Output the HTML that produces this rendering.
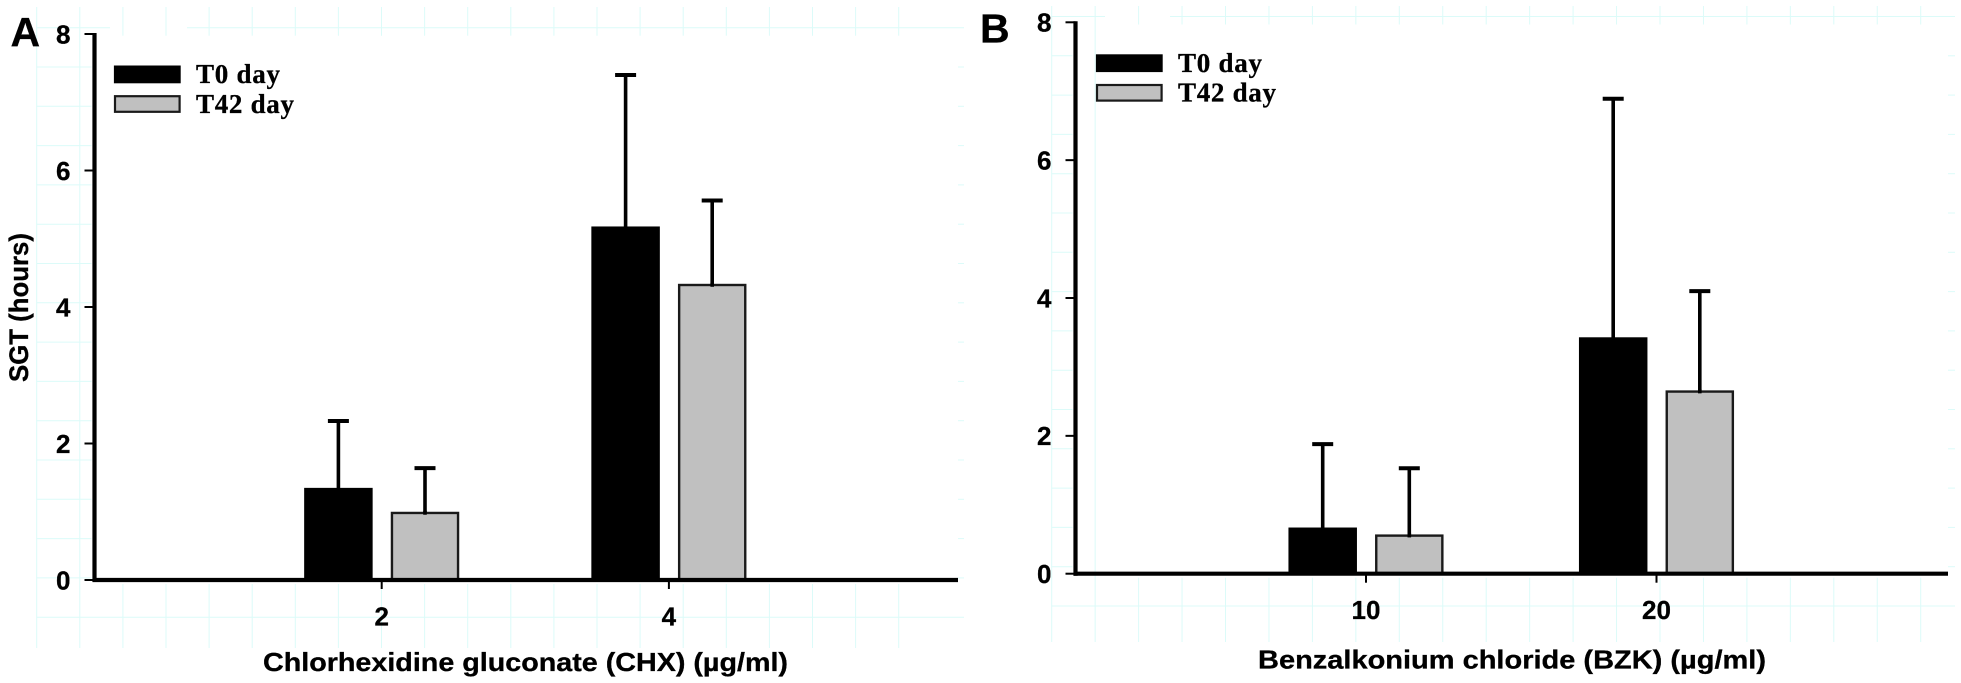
<!DOCTYPE html>
<html>
<head>
<meta charset="utf-8">
<title>SGT bar charts</title>
<style>
html,body{margin:0;padding:0;background:#fff;}
svg{display:block;}
text{font-family:"Liberation Sans",sans-serif;font-weight:bold;fill:#000;stroke:#000;stroke-width:0.3px;}
.serif{font-family:"Liberation Serif",serif;}
</style>
</head>
<body>
<svg id="fig" xmlns="http://www.w3.org/2000/svg" width="1961" height="683" viewBox="0 0 1961 683"></svg>
<script>
const yTicks = [0, 2, 4, 6, 8];
const seriesNames = ['T0 day', 'T42 day'];

const chxCategories = ['2', '4'];
const chxT0 = [1.35, 5.18];
const chxT42 = [1.0, 4.34];
const chxT0Err = [2.33, 7.4];
const chxT42Err = [1.64, 5.56];

const bzkCategories = ['10', '20'];
const bzkT0 = [0.67, 3.43];
const bzkT42 = [0.57, 2.66];
const bzkT0Err = [1.88, 6.89];
const bzkT42Err = [1.53, 4.1];

const svg = document.getElementById('fig');
const NS = 'http://www.w3.org/2000/svg';

function mk(tag, attrs, parent, txt) {
  const el = document.createElementNS(NS, tag);
  for (const k in attrs) el.setAttribute(k, attrs[k]);
  if (txt !== undefined) el.textContent = txt;
  (parent || svg).appendChild(el);
  return el;
}

function drawGrid(p) {
  const g = mk('g', {stroke: '#dcfbf9', 'stroke-width': 1, fill: 'none'});
  
  
  for (let n = 0; n < 21; n++) {
    const x = p.gridX0 + n * p.gridDX;
    if (x > p.gridXEnd) break;
    if (n < 2) {
      mk('line', {x1: x, x2: x, y1: p.gridTop, y2: p.gridBottom}, g);
    } else {
      mk('line', {x1: x, x2: x, y1: p.gridTop, y2: p.gridHTop + 8}, g);
      mk('line', {x1: x, x2: x, y1: p.y0 + 4, y2: p.gridBottom}, g);
    }
  }
  for (let n = 0; n < 16; n++) {
    const y = p.gridHTop + n * 39.3;
    if (n === 0) {
      mk('line', {x1: p.gridX0, x2: p.topGapStart, y1: y, y2: y}, g);
      mk('line', {x1: p.topGapEnd, x2: p.gridRight, y1: y, y2: y}, g);
    } else if (n === 15) {
      mk('line', {x1: p.gridX0, x2: p.gridRight, y1: y, y2: y}, g);
    } else {
      mk('line', {x1: p.gridX0, x2: p.axisX - 3, y1: y, y2: y}, g);
      mk('line', {x1: p.axisRight, x2: p.gridRight, y1: y, y2: y}, g);
    }
  }
}

function drawPanel(p) {
  const yScale = v => p.y0 - v * (p.y0 - p.y8) / 8;
  const xScale = i => p.axisX + p.band * (i + 1);
  const barOffset = 43.3;
  const barW = 68.5;

  drawGrid(p);

  const root = mk('g', {});
  
  

  p.categories.forEach((c, i) => {
    [[p.t0, p.t0Err, '#000', '#000', 't0'], [p.t42, p.t42Err, '#c0c0c0', '#1a1a1a', 't42']].forEach((s, j) => {
      const cx = xScale(i) + (j === 0 ? -barOffset : barOffset);
      const top = yScale(s[0][i]);
      const errY = yScale(s[1][i]);
      const stem = mk('line', {x1: cx, x2: cx, y1: errY, y2: top + 2, stroke: '#000', 'stroke-width': 3.6}, root);
      
      
      const cap = mk('line', {x1: cx - 10.5, x2: cx + 10.5, y1: errY, y2: errY, stroke: '#000', 'stroke-width': 4}, root);
      
      
      const bar = mk('rect', {x: cx - barW / 2 + 1.2, y: top + 1.2, width: barW - 2.4, height: p.y0 - top - 1.2, fill: s[2], stroke: s[3], 'stroke-width': 2.4}, root);
      
      
      if (j === 1) {
        const over = mk('line', {x1: cx, x2: cx, y1: top - 1, y2: top + 3, stroke: '#000', 'stroke-width': 3.6}, root);
        
        
      }
    });
  });

  const yAxis = mk('line', {x1: p.axisX, x2: p.axisX, y1: p.y8 - 1, y2: p.y0 + 2, stroke: '#000', 'stroke-width': 4.2}, root);
  
  
  const xAxis = mk('line', {x1: p.axisX - 2, x2: p.axisRight, y1: p.y0, y2: p.y0, stroke: '#000', 'stroke-width': 4.2}, root);
  
  

  yTicks.forEach(v => {
    const y = yScale(v);
    const t = mk('line', {x1: p.axisX - 10, x2: p.axisX, y1: y, y2: y, stroke: '#000', 'stroke-width': 2}, root);
    
    
    const l = mk('text', {x: p.axisX - 24, y: y + 9.3, 'text-anchor': 'end', 'font-size': 26}, root, String(v));
    
    
  });

  p.categories.forEach((c, i) => {
    const x = xScale(i);
    const t = mk('line', {x1: x, x2: x, y1: p.y0, y2: p.y0 + 9, stroke: '#000', 'stroke-width': 2}, root);
    
    
    const l = mk('text', {x: x, y: p.y0 + 45.5, 'text-anchor': 'middle', 'font-size': 26}, root, c);
    
    
  });

  const title = mk('text', {x: p.titleX, y: p.titleY, 'font-size': 26, textLength: p.titleW, lengthAdjust: 'spacingAndGlyphs'}, root, p.title);
  
  

  const panelLabel = mk('text', {x: p.labelX, y: p.labelY, 'font-size': 41}, root, p.label);
  
  

  seriesNames.forEach((name, j) => {
    const ly = p.legendY + j * 29.6;
    const sw = mk('rect', {x: p.legendX + 1, y: ly + 1, width: 64.6, height: 15.6, fill: j === 0 ? '#000' : '#c0c0c0', stroke: j === 0 ? '#000' : '#1a1a1a', 'stroke-width': 2.2}, root);
    
    
    const tx = mk('text', {x: p.legendX + 82, y: ly + 17.6, 'font-size': 27, class: 'serif', textLength: j === 0 ? 84 : 98, lengthAdjust: 'spacing'}, root, name);
    
    
  });
}

drawPanel({
  id: 'panel-a', label: 'A', labelX: 10.5, labelY: 46,
  categories: chxCategories, t0: chxT0, t42: chxT42, t0Err: chxT0Err, t42Err: chxT42Err,
  axisX: 94.5, axisRight: 958, y0: 580, y8: 34, band: 287.2,
  title: 'Chlorhexidine gluconate (CHX) (\u00b5g/ml)', titleX: 263, titleY: 671, titleW: 525,
  legendX: 114, legendY: 65.6,
  gridX0: 36.7, gridDX: 43.1, gridXEnd: 945, gridTop: 7, gridBottom: 648, gridHTop: 27.7, gridRight: 964,
  topGapStart: 110, topGapEnd: 187
});

drawPanel({
  id: 'panel-b', label: 'B', labelX: 980, labelY: 42.5,
  categories: bzkCategories, t0: bzkT0, t42: bzkT42, t0Err: bzkT0Err, t42Err: bzkT42Err,
  axisX: 1075.5, axisRight: 1948, y0: 573.7, y8: 22.3, band: 290.5,
  title: 'Benzalkonium chloride (BZK) (\u00b5g/ml)', titleX: 1258, titleY: 668.5, titleW: 508,
  legendX: 1096, legendY: 54.4,
  gridX0: 1051.7, gridDX: 43.45, gridXEnd: 1930, gridTop: 6, gridBottom: 642, gridHTop: 16.5, gridRight: 1955,
  topGapStart: 1105, topGapEnd: 1170
});

const sgt = mk('text', {transform: 'translate(28,382) rotate(-90)', 'font-size': 27, textLength: 149, lengthAdjust: 'spacingAndGlyphs'}, svg, 'SGT (hours)');


</script>
</body>
</html>
